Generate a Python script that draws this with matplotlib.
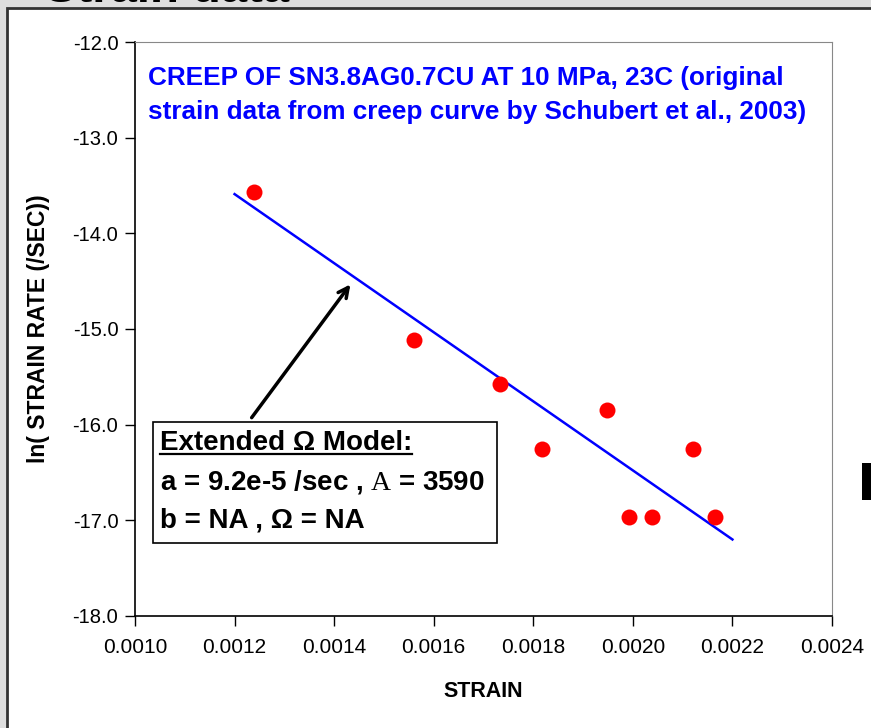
import matplotlib.pyplot as plt
from matplotlib.patches import Rectangle

plt.rcParams["font.family"] = ["Liberation Sans", "DejaVu Sans"]
plt.rcParams["mathtext.fontset"] = "custom"
plt.rcParams["mathtext.rm"] = "Liberation Serif"

# measured creep data (strain vs ln strain rate)
strain = [0.00124, 0.00156, 0.001733, 0.001817, 0.001948, 0.001992, 0.002038, 0.00212, 0.002165]
ln_rate = [-13.57, -15.12, -15.58, -16.25, -15.85, -16.96, -16.96, -16.25, -16.97]

# extended omega model fit line
fit_strain = [0.0012, 0.0022]
fit_ln_rate = [-13.59, -17.20]

x_ticks = [0.0010, 0.0012, 0.0014, 0.0016, 0.0018, 0.0020, 0.0022, 0.0024]
y_ticks = [-18.0, -17.0, -16.0, -15.0, -14.0, -13.0, -12.0]

fig = plt.figure(figsize=(8.71, 7.28), dpi=100)
fig.patch.set_facecolor("#dedede")

# white slide panel
panel = Rectangle((7 / 871, -0.05), 1.0, 1.05 - 8 / 728, transform=fig.transFigure,
                  facecolor="white", edgecolor="#333333", linewidth=2, zorder=-10)
fig.patches.append(panel)

# cut-off slide title at the very top
fig.text(0.052, 0.997, "Strain data", fontsize=34, fontweight="bold", va="baseline")

# black block at right edge
fig.patches.append(Rectangle((862 / 871, 1 - 500 / 728), 0.02, 37 / 728,
                             transform=fig.transFigure, facecolor="black"))

ax = fig.add_axes([135 / 871, 1 - 616 / 728, 697 / 871, 574 / 728])
ax.plot(fit_strain, fit_ln_rate, color="#0000ff", linewidth=1.8)
ax.plot(strain, ln_rate, "o", color="#ff0000", markersize=11.5, markeredgewidth=0)

ax.set_xlim(0.0010, 0.0024)
ax.set_ylim(-18.0, -12.0)
ax.set_xticks(x_ticks)
ax.set_xticklabels([f"{v:.4f}" for v in x_ticks])
ax.set_yticks(y_ticks)
ax.set_yticklabels([f"{v:.1f}" for v in y_ticks])
ax.tick_params(direction="out", length=7, width=1)
ax.tick_params(axis="x", labelsize=15, pad=9)
ax.tick_params(axis="y", labelsize=14.5, pad=5)

for side in ["top", "right"]:
    ax.spines[side].set_color("#888888")
for side in ["left", "bottom"]:
    ax.spines[side].set_color("black")
    ax.spines[side].set_linewidth(1.2)

ax.set_xlabel("STRAIN", fontsize=15.5, fontweight="bold", labelpad=17)
ax.set_ylabel("ln( STRAIN RATE (/SEC))", fontsize=16.5, fontweight="bold", labelpad=16)

ax.text(13 / 697, 1 - 53 / 574,
        "CREEP OF SN3.8AG0.7CU AT 10 MPa, 23C (original\nstrain data from creep curve by Schubert et al., 2003)",
        transform=ax.transAxes, color="#0000ff", fontsize=18.8, fontweight="bold",
        va="center", ha="left", linespacing=1.5)

# model box
bx0, bx1 = (153 - 135) / 697, (497 - 135) / 697
by0, by1 = (616 - 543) / 574, (616 - 422) / 574
ax.add_patch(Rectangle((bx0, by0), bx1 - bx0, by1 - by0, transform=ax.transAxes,
                       facecolor="white", edgecolor="black", linewidth=1.2, zorder=5))

tx = (160 - 135) / 697
line_y = [(616 - 443) / 574, (616 - 482) / 574, (616 - 521) / 574]
t1 = ax.text(tx, line_y[0], "Extended \u03a9 Model:", transform=ax.transAxes,
             fontsize=20, fontweight="bold", va="center", zorder=6)
ax.text(tx, line_y[1], r"a = 9.2e-5 /sec , $\mathrm{A}$ = 3590", transform=ax.transAxes,
        fontsize=20, fontweight="bold", va="center", zorder=6)
ax.text(tx, line_y[2], "b = NA , \u03a9 = NA", transform=ax.transAxes,
        fontsize=20, fontweight="bold", va="center", zorder=6)

fig.canvas.draw()
bb = t1.get_window_extent().transformed(ax.transAxes.inverted())
ax.plot([bb.x0, bb.x1], [bb.y0 + 0.004, bb.y0 + 0.004], transform=ax.transAxes,
        color="black", linewidth=1.6, zorder=6)

ax.annotate("", xy=(0.001436, -14.51), xytext=(0.001231, -15.95),
            arrowprops=dict(arrowstyle="->", color="black", lw=2.5, mutation_scale=18),
            zorder=6)

fig.savefig("out.png", dpi=100, facecolor=fig.get_facecolor())
